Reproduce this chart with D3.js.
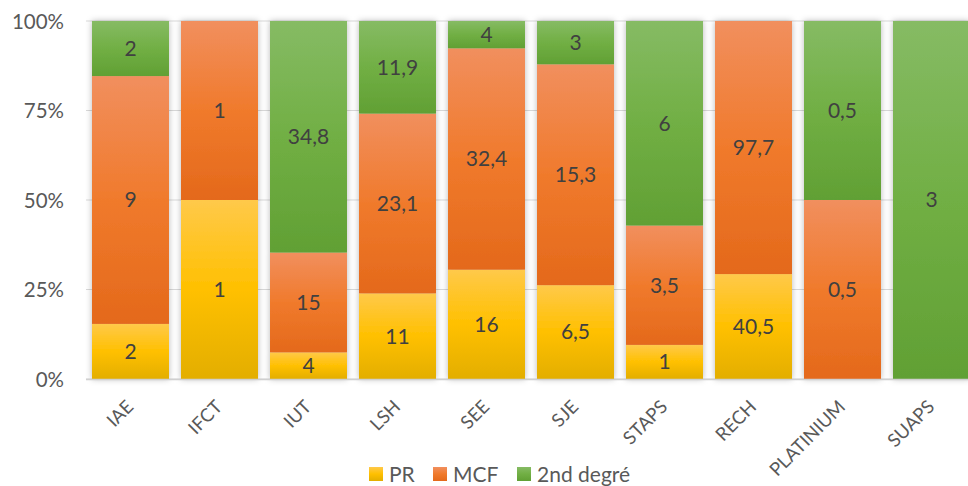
<!DOCTYPE html>
<html>
<head>
<meta charset="utf-8">
<script src="https://cdn.jsdelivr.net/npm/d3@7"></script>
<style>
  html, body { margin: 0; padding: 0; background: #fff; }
  svg { display: block; }
  text { font-family: Lato, "Open Sans", sans-serif; }
</style>
</head>
<body>
<svg id="chart" width="968" height="486"></svg>
<script>
// Composantes et effectifs par corps
const categories = ["IAE", "IFCT", "IUT", "LSH", "SEE", "SJE", "STAPS", "RECH", "PLATINIUM", "SUAPS"];
const prValues   = [2, 1, 4, 11, 16, 6.5, 1, 40.5, 0, 0];
const mcfValues  = [9, 1, 15, 23.1, 32.4, 15.3, 3.5, 97.7, 0.5, 0];
const secValues  = [2, 0, 34.8, 11.9, 4, 3, 6, 0, 0.5, 3];
const seriesNames = ["PR", "MCF", "2nd degré"];
const yTicks = [0, 0.25, 0.5, 0.75, 1];

const seriesKeys = ["pr", "mcf", "sec"];
const rows = categories.map((c, i) => ({ cat: c, pr: prValues[i], mcf: mcfValues[i], sec: secValues[i] }));

const gradients = {
  pr:  ["#FFC94A", "#FFC000", "#E3AE00"],
  mcf: ["#F18F5E", "#F07A2C", "#E4691B"],
  sec: ["#86BB64", "#71AF44", "#61A034"]
};

const svg = d3.select("#chart");
const defs = svg.append("defs");

seriesKeys.forEach(k => {
  const g = defs.append("linearGradient").attr("id", "grad-" + k)
    .attr("x1", 0).attr("y1", 0).attr("x2", 0).attr("y2", 1);
  g.append("stop").attr("offset", "0%").attr("stop-color", gradients[k][0]);
  g.append("stop").attr("offset", "50%").attr("stop-color", gradients[k][1]);
  g.append("stop").attr("offset", "100%").attr("stop-color", gradients[k][2]);
});

const shadow = defs.append("filter").attr("id", "barShadow")
  .attr("x", "-20%").attr("y", "-5%").attr("width", "140%").attr("height", "110%");
shadow.append("feDropShadow").attr("dx", 0).attr("dy", 0).attr("stdDeviation", 3)
  .attr("flood-color", "#000").attr("flood-opacity", 0.28);

const x = d3.scaleBand().domain(categories).range([86, 976])
  .paddingInner(0.135).paddingOuter(0.0675);
const y = d3.scaleLinear().domain([0, 1]).range([379, 21]);

// Gridlines and y labels
const grid = svg.append("g");
grid.selectAll("line").data(yTicks).join("line")
  .attr("x1", 86).attr("x2", 968)
  .attr("y1", d => y(d)).attr("y2", d => y(d))
  .attr("stroke", "#d9d9d9").attr("stroke-width", 1.2);

const yAxis = d3.axisLeft(y).tickValues(yTicks).tickSize(0)
  .tickFormat(d => Math.round(d * 100) + "%");
const yg = svg.append("g").attr("transform", "translate(64,0)").call(yAxis);
yg.select(".domain").remove();
yg.selectAll("text").attr("fill", "#595959").style("font-size", "20.5px")
  .style("font-family", "Lato, 'Open Sans', sans-serif").attr("x", 0).attr("dy", "0.35em");

// Stacked bars normalised to 100%
const stack = d3.stack().keys(seriesKeys).offset(d3.stackOffsetExpand);
const layers = stack(rows);

const barGroups = svg.append("g").selectAll("g.bar").data(categories).join("g")
  .attr("class", "bar").attr("filter", "url(#barShadow)");

barGroups.each(function(cat, i) {
  const g = d3.select(this);
  layers.forEach(layer => {
    const seg = layer[i];
    if (seg[1] - seg[0] <= 0) return;
    g.append("rect")
      .attr("x", x(cat)).attr("width", x.bandwidth())
      .attr("y", y(seg[1])).attr("height", y(seg[0]) - y(seg[1]))
      .attr("fill", "url(#grad-" + layer.key + ")");
  });
});

// Axis baseline
svg.append("line").attr("x1", 86).attr("x2", 968).attr("y1", 379.5).attr("y2", 379.5)
  .attr("stroke", "#d0d0d0").attr("stroke-width", 1.5);

// Value labels
const fmt = v => String(v).replace(".", ",");
const labels = svg.append("g");
layers.forEach(layer => {
  layer.forEach((seg, i) => {
    const v = seg.data[layer.key];
    if (!v) return;
    labels.append("text")
      .attr("x", x(categories[i]) + x.bandwidth() / 2)
      .attr("y", (y(seg[0]) + y(seg[1])) / 2)
      .attr("dy", "0.35em").attr("text-anchor", "middle")
      .attr("fill", "#404040").style("font-size", "21px")
      .text(fmt(v));
  });
});

// Category labels (rotated)
const xAxis = d3.axisBottom(x).tickSize(0);
const xg = svg.append("g").attr("transform", "translate(0,388)").call(xAxis);
xg.select(".domain").remove();
xg.selectAll("text")
  .attr("fill", "#595959").style("font-size", "18.5px")
  .style("font-family", "Lato, 'Open Sans', sans-serif")
  .attr("text-anchor", "end").attr("x", 0).attr("y", 0).attr("dy", 0)
  .attr("transform", "translate(4,20) rotate(-45)");

// Legend
const legendX = [369, 433, 517];
const legend = svg.append("g");
seriesKeys.forEach((k, i) => {
  legend.append("rect").attr("x", legendX[i]).attr("y", 467).attr("width", 14).attr("height", 14)
    .attr("fill", "url(#grad-" + k + ")");
  legend.append("text").attr("x", legendX[i] + 20).attr("y", 474.5).attr("dy", "0.35em")
    .attr("fill", "#595959").style("font-size", "21px").text(seriesNames[i]);
});
</script>
</body>
</html>
